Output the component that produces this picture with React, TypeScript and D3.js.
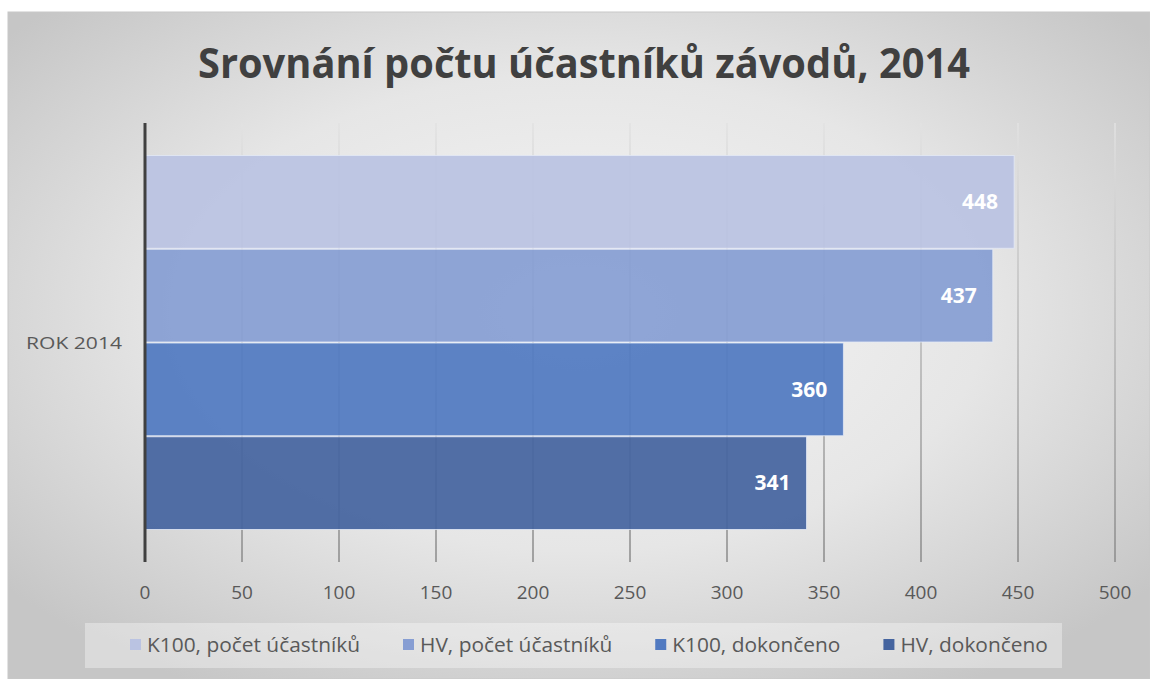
import React, { useEffect, useRef } from "react";
import * as d3 from "d3";

const TITLE = "Srovnání počtu účastníků závodů, 2014";
const CATEGORY = "ROK 2014";
const SERIES = ["K100, počet účastníků", "HV, počet účastníků", "K100, dokončeno", "HV, dokončeno"];
const VALUES = [448, 437, 360, 341];
const COLORS = ["#bac3e2", "#879ed3", "#517ac1", "#45649f"];
const X_TICKS = [0, 50, 100, 150, 200, 250, 300, 350, 400, 450, 500];

const W = 1150;
const H = 679;

export default function App() {
  const ref = useRef<SVGSVGElement>(null);

  useEffect(() => {
    const svg = d3.select(ref.current);
    svg.selectAll("*").remove();

    const defs = svg.append("defs");
    const bg = defs.append("radialGradient").attr("id", "bg").attr("cx", "50%").attr("cy", "45%").attr("r", "65%");
    bg.append("stop").attr("offset", "0%").attr("stop-color", "#f6f6f6");
    bg.append("stop").attr("offset", "55%").attr("stop-color", "#e6e6e6");
    bg.append("stop").attr("offset", "100%").attr("stop-color", "#c6c6c6");
    const gg = defs.append("linearGradient").attr("id", "grid").attr("x1", 0).attr("y1", 0).attr("x2", 0).attr("y2", 1).attr("gradientUnits", "objectBoundingBox");
    gg.append("stop").attr("offset", "0%").attr("stop-color", "#e2e2e2");
    gg.append("stop").attr("offset", "100%").attr("stop-color", "#8a8a8a");

    // frame / background
    svg.append("rect").attr("x", 8).attr("y", 12).attr("width", W - 8).attr("height", H - 12)
      .attr("fill", "url(#bg)").attr("stroke", "#c8c8c8").attr("stroke-width", 1);

    const x = d3.scaleLinear().domain([0, 500]).range([145, 1115]);
    const plotTop = 123, plotBottom = 562;
    const y = d3.scaleBand<string>().domain(SERIES).range([155, 530]).padding(0);

    // title
    svg.append("text").attr("x", 584).attr("y", 78).attr("text-anchor", "middle")
      .attr("font-family", "'Open Sans', sans-serif").attr("font-weight", 700).attr("font-size", 42)
      .attr("fill", "#404040").attr("textLength", 772).attr("lengthAdjust", "spacingAndGlyphs").text(TITLE);

    // gridlines
    svg.append("g").selectAll("rect").data(X_TICKS.filter(t => t > 0)).join("rect")
      .attr("x", d => x(d) - 0.75).attr("width", 1.5).attr("y", plotTop).attr("height", plotBottom - plotTop)
      .attr("fill", "url(#grid)");

    // bars
    svg.append("g").selectAll("rect").data(SERIES).join("rect")
      .attr("x", x(0)).attr("y", d => (y(d) as number) + 0.5)
      .attr("width", (d, i) => x(VALUES[i]) - x(0)).attr("height", y.bandwidth() - 1)
      .attr("fill", (d, i) => COLORS[i]).attr("fill-opacity", 0.93)
      .attr("stroke", "#e4eaf6").attr("stroke-width", 1).attr("stroke-opacity", 0.8);

    // value labels
    svg.append("g").selectAll("text").data(SERIES).join("text")
      .attr("x", (d, i) => x(VALUES[i]) - 16).attr("y", d => (y(d) as number) + y.bandwidth() / 2)
      .attr("dy", "0.35em").attr("text-anchor", "end")
      .attr("font-family", "'Open Sans', sans-serif").attr("font-weight", 700).attr("font-size", 21)
      .attr("fill", "#ffffff").text((d, i) => String(VALUES[i]));

    // axis line
    svg.append("line").attr("x1", x(0)).attr("x2", x(0)).attr("y1", plotTop).attr("y2", plotBottom)
      .attr("stroke", "#404040").attr("stroke-width", 3);

    // tick labels
    svg.append("g").selectAll("text").data(X_TICKS).join("text")
      .attr("x", d => x(d)).attr("y", 592).attr("dy", "0.35em").attr("text-anchor", "middle")
      .attr("font-family", "'Open Sans', sans-serif").attr("font-size", 19).attr("fill", "#595959")
      .text(d => String(d));

    // category label
    svg.append("text").attr("x", 74).attr("y", 343).attr("dy", "0.35em").attr("text-anchor", "middle")
      .attr("font-family", "'Open Sans', sans-serif").attr("font-size", 17).attr("fill", "#595959")
      .attr("textLength", 96).attr("lengthAdjust", "spacingAndGlyphs").text(CATEGORY);

    // legend
    svg.append("rect").attr("x", 85).attr("y", 623).attr("width", 977).attr("height", 45)
      .attr("fill", "#ffffff").attr("fill-opacity", 0.35);
    const lg = svg.append("g");
    const texts = SERIES.map((s) =>
      lg.append("text").attr("y", 645).attr("dy", "0.35em")
        .attr("font-family", "'Open Sans', sans-serif").attr("font-size", 20).attr("fill", "#595959").text(s)
    );
    const raw = texts.map(t => (t.node() as SVGTextElement).getComputedTextLength());
    const k = 213 / raw[0];
    let cx = 130;
    SERIES.forEach((s, i) => {
      lg.append("rect").attr("x", cx).attr("y", 639).attr("width", 11).attr("height", 11).attr("fill", COLORS[i]);
      const len = raw[i] * k;
      texts[i].attr("x", cx + 17).attr("textLength", len).attr("lengthAdjust", "spacingAndGlyphs");
      cx += 17 + len + 43;
    });
  }, []);

  return (
    <svg ref={ref} width={W} height={H} style={{ position: "absolute", left: 0, top: 0 }} />
  );
}
